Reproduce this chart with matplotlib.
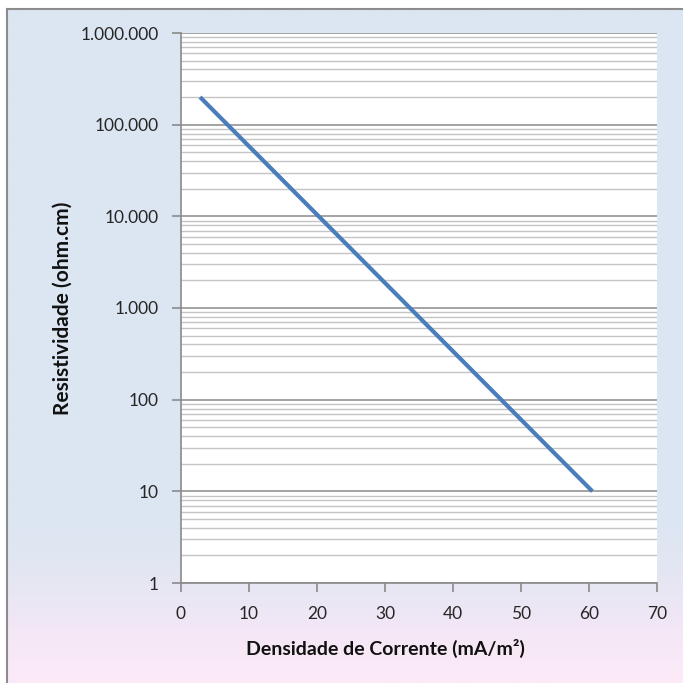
import numpy as np
import matplotlib
matplotlib.use("Agg")
import matplotlib.pyplot as plt
from matplotlib.colors import LinearSegmentedColormap
from matplotlib.ticker import FuncFormatter, LogLocator

plt.rcParams['font.family'] = ['Lato', 'DejaVu Sans']

# data
densidade = [2.8, 60.5]          # mA/m2
resistividade = [200000, 10]     # ohm.cm

x_ticks = [0, 10, 20, 30, 40, 50, 60, 70]
y_ticks = [1, 10, 100, 1000, 10000, 100000, 1000000]


def pt_fmt(v, pos):
    return '{:,.0f}'.format(v).replace(',', '.')


fig = plt.figure(figsize=(6.83, 6.83), dpi=100)
fig.patch.set_facecolor('white')

# chart area background with the vertical gradient and grey border
bg = fig.add_axes([7 / 683, 0, 1 - 7 / 683, 1 - 9 / 683], zorder=-5)
cmap = LinearSegmentedColormap.from_list(
    'bg', [(0.0, '#fdeaf8'), (0.08, '#f3e7f6'), (0.17, '#e2e6f2'), (0.24, '#dce6f2'), (1.0, '#dce6f2')])
grad = np.linspace(0, 1, 256).reshape(-1, 1)
bg.imshow(grad, aspect='auto', cmap=cmap, origin='lower', extent=[0, 1, 0, 1])
bg.set_xticks([])
bg.set_yticks([])
for s in ['right', 'bottom']:
    bg.spines[s].set_visible(False)
for s in ['left', 'top']:
    bg.spines[s].set_color('#8c8c8c')
    bg.spines[s].set_linewidth(1.5)

ax = fig.add_axes([181 / 683, 1 - 583 / 683, (657 - 181) / 683, (583 - 33) / 683])
ax.set_facecolor('white')
ax.set_yscale('log')
ax.set_xlim(0, 70)
ax.set_ylim(1, 1000000)

ax.yaxis.set_minor_locator(LogLocator(base=10, subs=np.arange(2, 10), numticks=10))
ax.set_yticks(y_ticks)
ax.yaxis.set_major_formatter(FuncFormatter(pt_fmt))
ax.set_xticks(x_ticks)

ax.grid(True, which='major', axis='y', color='#8a8a8a', linewidth=1.1)
ax.grid(True, which='minor', axis='y', color='#c4c4c4', linewidth=1.0)
ax.set_axisbelow(True)

ax.plot(densidade, resistividade, color='#4a7ebb', linewidth=3, solid_capstyle='butt', zorder=3)

for s in ['top', 'right']:
    ax.spines[s].set_visible(False)
for s in ['left', 'bottom']:
    ax.spines[s].set_color('#8a8a8a')
    ax.spines[s].set_linewidth(1.2)

ax.tick_params(axis='both', which='major', direction='out', length=6.5, width=1.2,
               color='#8a8a8a', labelsize=12.5, labelcolor='#262626')
ax.tick_params(axis='y', which='minor', length=0)
ax.tick_params(axis='y', pad=9.5)
ax.tick_params(axis='x', pad=10)

ax.set_xlabel('Densidade de Corrente (mA/m²)', fontsize=14, fontweight='bold',
              color='#111111', labelpad=12)
ax.xaxis.label.set_x(0.43)
ax.set_ylabel('Resistividade (ohm.cm)', fontsize=15, fontweight='bold',
              color='#111111', labelpad=6)

fig.savefig('out.png', dpi=100, facecolor=fig.get_facecolor())
